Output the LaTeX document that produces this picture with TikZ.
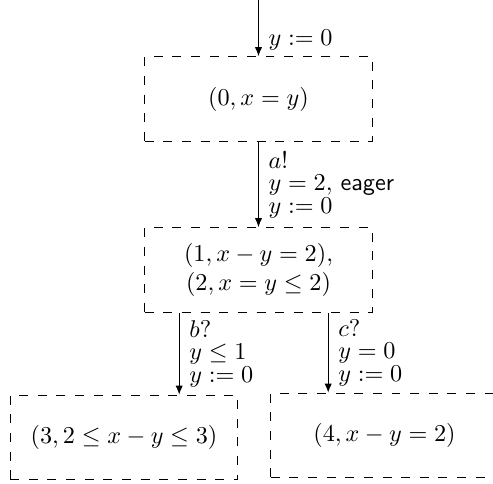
\documentclass[tikz,border=0pt]{standalone}
\usepackage{amsmath,amssymb}
\usepackage{tikz}
\usetikzlibrary{arrows.meta,calc}

\begin{document}
\begin{tikzpicture}[
    x=0.413pt, y=-0.413pt,
    zone/.style={
        draw,
        rectangle,
        dash pattern=on 3.7pt off 4pt,
        align=center,
        minimum width=94pt,
        minimum height=35pt,
        inner sep=0pt
    },
    trans/.style={
        draw,
        -{Latex[length=3.7pt,width=3pt]}
    },
    guard/.style={
        right,
        align=left,
        inner sep=4pt
    }
]
\useasboundingbox (0,0) rectangle (493,484);

\coordinate (init) at (258.5,0);
\node[zone] (z0) at (258.5,99) {$(0, x = y)$};
\node[zone] (z12) at (258.5,270) {$(1, x - y = 2),$\\ $(2, x = y \leq 2)$};
\node[zone] (z3) at (124,437.5) {$(3, 2 \leq x - y \leq 3)$};
\node[zone] (z4) at (384.5,435.5) {$(4, x - y = 2)$};

\coordinate (b) at ($(z12.south west)+(35,0)$);
\coordinate (c) at ($(z12.south west)+(184,0)$);

\draw[trans] (init) -- node[guard, pos=0.72] {$y := 0$} (z0);
\draw[trans] (z0) -- node[guard] {$a!$\\[-2.7pt] $y = 2,$ \textsf{eager}\\[-2.7pt] $y := 0$} (z12);
\draw[trans] (b) -- node[guard] {$b?$\\[-2.7pt] $y \leq 1$\\[-2.7pt] $y := 0$} (b |- z3.north);
\draw[trans] (c) -- node[guard] {$c?$\\[-2.7pt] $y = 0$\\[-2.7pt] $y := 0$} (c |- z4.north);

\end{tikzpicture}
\end{document}
